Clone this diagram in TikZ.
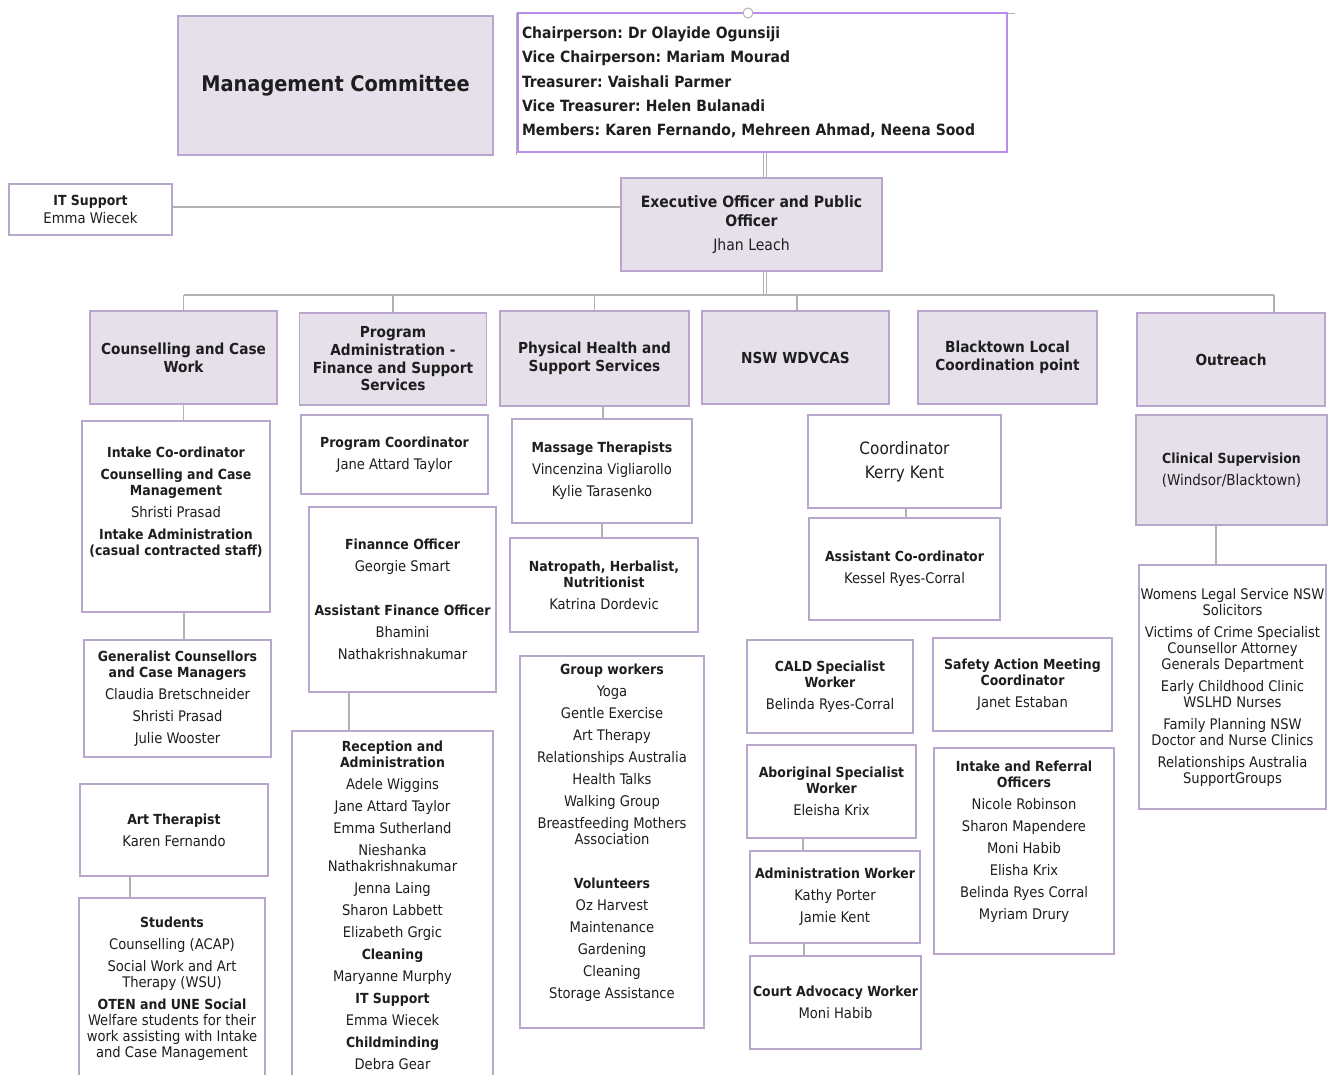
\documentclass[tikz,border=0pt]{standalone}
\usepackage{fontspec}
\setmainfont{DejaVuSansCondensed.ttf}[BoldFont=DejaVuSansCondensed-Bold.ttf]
\definecolor{lav}{HTML}{E5E0EA}
\definecolor{boxc}{HTML}{B8A6CD}
\definecolor{chairc}{HTML}{B88CEB}
\definecolor{linec}{HTML}{B2B2B6}
\definecolor{txt}{HTML}{1E1E1E}
\frenchspacing
\newcommand\bodyf{\fontsize{14.6}{16}\selectfont}
\newcommand\deptf{\fontsize{15.2}{17.7}\selectfont}
\newcommand\hd[1]{{\fontsize{13.9}{16}\selectfont\bfseries #1}}
\begin{document}
\begin{tikzpicture}[x=1pt,y=-1pt,
  base/.style={draw=boxc, line width=1.7pt, inner sep=2pt, align=center, text=txt, font=\bodyf},
  wbox/.style={base, fill=white},
  lbox/.style={base, fill=lav},
  dept/.style={lbox, font=\deptf\bfseries, minimum height=93pt},
  conn/.style={draw=linec, line width=1.1pt},
  dbl/.style={draw=linec, line width=0.9pt, double=white, double distance=2.6pt}]
\useasboundingbox[fill=white] (0,0) rectangle (1328,1075);

% top
\node[lbox, minimum width=315pt, minimum height=139pt, font=\fontsize{21.5}{25}\selectfont\bfseries] (mgmt) at (335.5,85.5) {Management Committee};
\draw[linec, line width=0.8pt] (516,13) -- (1015,13);
\draw[linec, line width=0.6pt] (516,13) -- (516,155);
\node[draw=chairc, fill=white, line width=1.7pt, minimum width=489pt, minimum height=139pt,
      text width=481pt, inner xsep=4pt, align=left, text=txt,
      font=\fontsize{15.5}{24.3}\selectfont\bfseries] (chair) at (762.5,82.5)
  {Chairperson: Dr Olayide Ogunsiji\\
   Vice Chairperson: Mariam Mourad\\
   Treasurer: Vaishali Parmer\\
   Vice Treasurer: Helen Bulanadi\\
   Members: Karen Fernando, Mehreen Ahmad, Neena Sood};
\draw[linec, line width=1pt, fill=white] (748,13) circle (5pt);

\node[wbox, minimum width=163pt, minimum height=51pt, font=\fontsize{14.7}{18}\selectfont] (it) at (90.5,209.5)
  {\hd{IT Support}\\Emma Wiecek};
\node[lbox, minimum width=261pt, minimum height=93pt, font=\fontsize{15.6}{19}\selectfont] (exec) at (751.5,224.5)
  {\textbf{Executive Officer and Public}\\\textbf{Officer}\\[5pt]Jhan Leach};

% departments
\node[dept, minimum width=187pt] (cc) at (183.5,357.5) {Counselling and Case\\Work};
\node[dept, minimum width=187pt, minimum height=92pt] (pa) at (393,359) {Program\\Administration -\\Finance and Support\\Services};
\node[dept, minimum width=189pt, minimum height=95pt] (ph) at (594.5,358.5) {Physical Health and\\Support Services};
\node[dept, minimum width=187pt] (nsw) at (795.5,357.5) {NSW WDVCAS};
\node[dept, minimum width=179pt] (bt) at (1007.5,357.5) {Blacktown Local\\Coordination point};
\node[dept, minimum width=188pt] (out) at (1231,359.5) {Outreach};

% column 1
\node[wbox, minimum width=188pt, minimum height=191pt] (intake) at (176,516.5)
  {\hd{Intake Co-ordinator}\\[6pt]\hd{Counselling and Case}\\\hd{Management}\\[6pt]Shristi Prasad\\[6pt]\hd{Intake Administration}\\\hd{(casual contracted staff)}\\[14pt]\mbox{}};
\node[wbox, minimum width=187pt, minimum height=117pt] (gen) at (177.5,698.5)
  {\hd{Generalist Counsellors}\\\hd{and Case Managers}\\[6pt]Claudia Bretschneider\\[6pt]Shristi Prasad\\[6pt]Julie Wooster};
\node[wbox, minimum width=188pt, minimum height=92pt] (art) at (174,830)
  {\hd{Art Therapist}\\[6pt]Karen Fernando};
\node[wbox, minimum width=186pt, minimum height=182pt] (stud) at (172,989)
  {\hd{Students}\\[6pt]Counselling (ACAP)\\[6pt]Social Work and Art\\Therapy (WSU)\\[6pt]\hd{OTEN and UNE Social}\\Welfare students for their\\work assisting with Intake\\and Case Management};

% column 2
\node[wbox, minimum width=187pt, minimum height=79pt] (pc) at (394.5,454.5)
  {\hd{Program Coordinator}\\[6pt]Jane Attard Taylor};
\node[wbox, minimum width=187pt, minimum height=185pt] (fin) at (402.5,599.5)
  {\hd{Finannce Officer}\\[6pt]Georgie Smart\\[28pt]\hd{Assistant Finance Officer}\\[6pt]Bhamini\\[6pt]Nathakrishnakumar};
\node[wbox, minimum width=201pt, minimum height=349pt] (rec) at (392.5,905.5)
  {\hd{Reception and}\\\hd{Administration}\\[6pt]Adele Wiggins\\[6pt]Jane Attard Taylor\\[6pt]Emma Sutherland\\[6pt]Nieshanka\\Nathakrishnakumar\\[6pt]Jenna Laing\\[6pt]Sharon Labbett\\[6pt]Elizabeth Grgic\\[6pt]\hd{Cleaning}\\[6pt]Maryanne Murphy\\[6pt]\hd{IT Support}\\[6pt]Emma Wiecek\\[6pt]\hd{Childminding}\\[6pt]Debra Gear};

% column 3
\node[wbox, minimum width=180pt, minimum height=104pt] (ms) at (602,471)
  {\hd{Massage Therapists}\\[6pt]Vincenzina Vigliarollo\\[6pt]Kylie Tarasenko};
\node[wbox, minimum width=188pt, minimum height=94pt] (nat) at (604,585)
  {\hd{Natropath, Herbalist,}\\\hd{Nutritionist}\\[6pt]Katrina Dordevic};
\node[wbox, minimum width=184pt, minimum height=372pt] (grp) at (612,842)
  {\hd{Group workers}\\[6pt]Yoga\\[6pt]Gentle Exercise\\[6pt]Art Therapy\\[6pt]Relationships Australia\\[6pt]Health Talks\\[6pt]Walking Group\\[6pt]Breastfeeding Mothers\\Association\\[28pt]\hd{Volunteers}\\[6pt]Oz Harvest\\[6pt]Maintenance\\[6pt]Gardening\\[6pt]Cleaning\\[6pt]Storage Assistance\\[6pt]\mbox{}};

% WDVCAS / Blacktown
\node[wbox, minimum width=193pt, minimum height=93pt, font=\fontsize{17}{18}\selectfont] (coord) at (904.5,461.5)
  {Coordinator\\[6pt]Kerry Kent};
\node[wbox, minimum width=191pt, minimum height=102pt] (asst) at (904.5,569)
  {\hd{Assistant Co-ordinator}\\[6pt]Kessel Ryes-Corral};
\node[wbox, minimum width=166pt, minimum height=93pt] (cald) at (830,686.5)
  {\hd{CALD Specialist}\\\hd{Worker}\\[6pt]Belinda Ryes-Corral};
\node[wbox, minimum width=179pt, minimum height=93pt] (saf) at (1022.5,684.5)
  {\hd{Safety Action Meeting}\\\hd{Coordinator}\\[6pt]Janet Estaban};
\node[wbox, minimum width=169pt, minimum height=93pt] (abo) at (831.5,791.5)
  {\hd{Aboriginal Specialist}\\\hd{Worker}\\[6pt]Eleisha Krix};
\node[wbox, minimum width=170pt, minimum height=92pt] (adm) at (835,897)
  {\hd{Administration Worker}\\[6pt]Kathy Porter\\[6pt]Jamie Kent};
\node[wbox, minimum width=171pt, minimum height=93pt] (court) at (835.5,1002.5)
  {\hd{Court Advocacy Worker}\\[6pt]Moni Habib};
\node[wbox, minimum width=180pt, minimum height=206pt] (iro) at (1024,851)
  {\hd{Intake and Referral}\\\hd{Officers}\\[6pt]Nicole Robinson\\[6pt]Sharon Mapendere\\[6pt]Moni Habib\\[6pt]Elisha Krix\\[6pt]Belinda Ryes Corral\\[6pt]Myriam Drury\\[6pt]\mbox{}};

% outreach
\node[lbox, minimum width=191pt, minimum height=110pt, font=\fontsize{15}{17}\selectfont] (clin) at (1231.5,470)
  {\hd{Clinical Supervision}\\[5pt](Windsor/Blacktown)};
\node[wbox, minimum width=187pt, minimum height=244pt, inner sep=0pt] (wom) at (1232.5,687)
  {Womens Legal Service NSW\\Solicitors\\[6pt]Victims of Crime Specialist\\Counsellor Attorney\\Generals Department\\[6pt]Early Childhood Clinic\\WSLHD Nurses\\[6pt]Family Planning NSW\\Doctor and Nurse Clinics\\[6pt]Relationships Australia\\SupportGroups};

% connectors
\coordinate (bus) at (765,295);
\draw[dbl] ([xshift=2.5pt]chair.south) -- ([xshift=2.5pt]chair.south |- exec.north);
\draw[conn] (it.east |- 0,207) -- (exec.west |- 0,207);
\draw[dbl] ([xshift=13.5pt]exec.south) -- (bus);
\draw[conn] (cc.north |- bus) -- ([xshift=43pt]out.north |- bus);
\draw[conn] (cc.north) -- (cc.north |- bus);
\draw[conn] (pa.north) -- (pa.north |- bus);
\draw[conn] (ph.north) -- (ph.north |- bus);
\draw[conn] ([xshift=1.5pt]nsw.north) -- ([xshift=1.5pt]nsw.north |- bus);
\draw[conn] ([xshift=43pt]out.north) -- ([xshift=43pt]out.north |- bus);
\draw[conn] (cc.south) -- (cc.south |- intake.north);
\draw[conn] ([xshift=8pt]intake.south) -- ([xshift=8pt]intake.south |- gen.north);
\draw[conn] ([xshift=-44pt]art.south) -- ([xshift=-44pt]art.south |- stud.north);
\draw[conn] ([xshift=-53.5pt]fin.south) -- ([xshift=-53.5pt]fin.south |- rec.north);
\draw[conn] ([xshift=1pt]ms.north) -- ([xshift=1pt]ms.north |- ph.south);
\draw[conn] (ms.south) -- (ms.south |- nat.north);
\draw[conn] ([xshift=1.5pt]coord.south) -- ([xshift=1.5pt]coord.south |- asst.north);
\draw[conn] ([xshift=-28.5pt]abo.south) -- ([xshift=-28.5pt]abo.south |- adm.north);
\draw[conn] ([xshift=-31pt]adm.south) -- ([xshift=-31pt]adm.south |- court.north);
\draw[conn] ([xshift=-15.5pt]clin.south) -- ([xshift=-15.5pt]clin.south |- wom.north);
\end{tikzpicture}
\end{document}
